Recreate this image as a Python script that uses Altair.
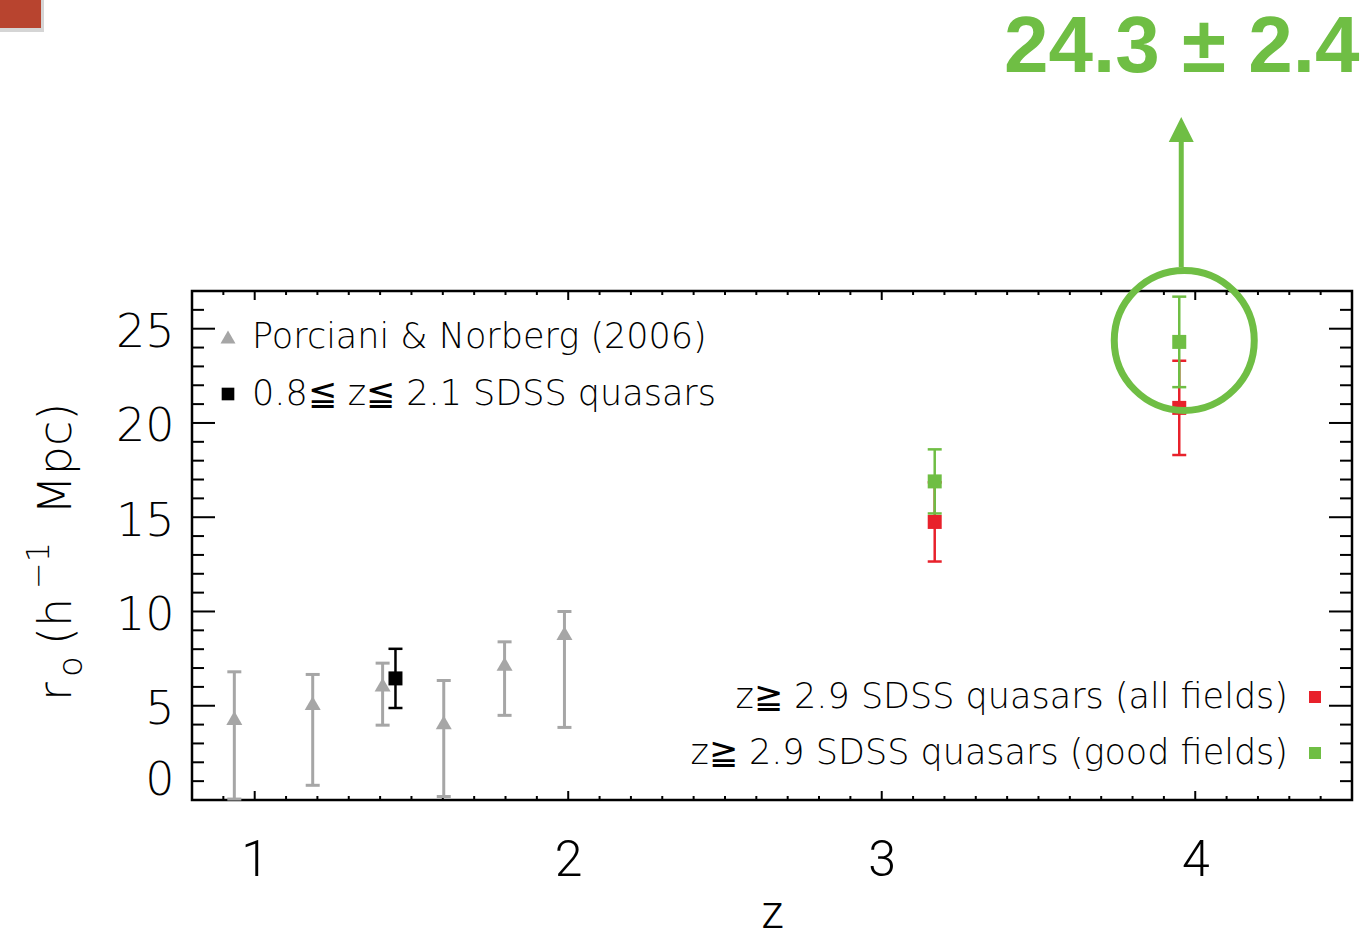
import altair as alt
import pandas as pd

# ---- data -------------------------------------------------------------
# Porciani & Norberg (2006): redshift, r0 and error-bar limits
pn_z = [0.935, 1.185, 1.408, 1.603, 1.797, 1.988]
pn_r0 = [4.35, 5.14, 6.12, 4.12, 7.22, 8.85]
pn_lo = [0.05, 0.78, 3.97, 0.18, 4.49, 3.85]
pn_hi = [6.80, 6.66, 7.26, 6.34, 8.39, 10.0]

# 0.8 <= z <= 2.1 SDSS quasars
lowz_z = [1.449]
lowz_r0 = [6.45]
lowz_err = [1.57]

# z >= 2.9 SDSS quasars
hiz_z = [3.169, 3.949]
all_r0 = [14.75, 20.8]
all_err = [2.1, 2.5]
good_r0 = [16.9, 24.3]
good_err = [1.7, 2.4]

x_major = [1, 2, 3, 4]
y_major = [0, 5, 10, 15, 20, 25]

legend_top = ["Porciani & Norberg (2006)", "0.8\u2266 z\u2266 2.1 SDSS quasars"]
legend_bottom = ["z\u2267 2.9 SDSS quasars (all fields)",
                 "z\u2267 2.9 SDSS quasars (good fields)"]

# y-axis title pieces: r_o (h^-1 Mpc)
ytitle_parts = ["r", "o", "(h", "\u22121", "Mpc)"]

# ---- styling ----------------------------------------------------------
W, H = 1160, 509
GRAY = "#a6a6a6"
GREEN = "#6fbe44"
RED = "#e8212b"
FONT = "DejaVu Sans"
LIGHT = 200
NARROW = "Roboto"

xs = alt.Scale(domain=[0.8, 4.5], nice=False, zero=False)
ys = alt.Scale(domain=[0, 27], nice=False, zero=False)

# identical axis definitions on every layer so that they merge cleanly
AX_X = alt.Axis(
    values=x_major, format="d", ticks=False, domain=False, grid=False,
    labelFont=NARROW, labelFontWeight=300, labelFontSize=50, labelColor="black",
    labelBaseline="alphabetic", labelPadding=75,
    title="z", titleFont=NARROW, titleFontSize=46, titleFontWeight=300,
    titleColor="black", titleBaseline="bottom", titleY=137)
AX_Y = alt.Axis(
    values=y_major, format="d", ticks=False, domain=False, grid=False,
    labelFont=FONT, labelFontWeight=LIGHT, labelFontSize=46, labelColor="black",
    labelPadding=18, labelFlush=True, labelOffset=4, title="")


def X(field, **kw):
    return alt.X(field, scale=xs, axis=AX_X, **kw)


def Y(field, **kw):
    return alt.Y(field, scale=ys, axis=AX_Y, **kw)


def errorbars(z, lo, hi, color, width, cap):
    df = pd.DataFrame({"z": z, "lo": lo, "hi": hi})
    base = alt.Chart(df)
    rule = base.mark_rule(color=color, strokeWidth=width, opacity=1).encode(
        x=X("z:Q"), y=Y("lo:Q"), y2="hi:Q")
    caps = [
        base.mark_tick(color=color, orient="horizontal", size=cap,
                       thickness=width, opacity=1).encode(x=X("z:Q"), y=Y(f"{k}:Q"))
        for k in ("lo", "hi")
    ]
    return [rule] + caps


def markers(z, r0, shape, color, size):
    df = pd.DataFrame({"z": z, "r0": r0})
    return alt.Chart(df).mark_point(shape=shape, filled=True, size=size,
                                    color=color, opacity=1, strokeWidth=0).encode(
        x=X("z:Q"), y=Y("r0:Q"))


# ---- frame ticks (pointing inwards on all four sides) -----------------
x_minor = [round(0.8 + 0.1 * i, 1) for i in range(38)]
x_minor = [v for v in x_minor if v not in x_major]
y_minor = [v for v in range(0, 28) if v not in y_major]


def xticks(vals, length, top):
    df = pd.DataFrame({"v": vals})
    y0 = 0 if top else H
    y1 = length if top else H - length
    return alt.Chart(df).mark_rule(color="black", strokeWidth=2).encode(
        x=X("v:Q"), y=alt.value(y0), y2=alt.value(y1))


def yticks(vals, length, right):
    df = pd.DataFrame({"v": vals})
    x0 = W if right else 0
    x1 = W - length if right else length
    return alt.Chart(df).mark_rule(color="black", strokeWidth=2).encode(
        y=Y("v:Q"), x=alt.value(x0), x2=alt.value(x1))


ticks = [
    xticks(x_major, 9, False), xticks(x_minor, 4, False),
    xticks(x_major, 9, True), xticks(x_minor, 4, True),
    yticks(y_major, 23, False), yticks(y_minor, 12, False),
    yticks(y_major, 23, True), yticks(y_minor, 12, True),
]

# ---- data layers -------------------------------------------------------
pn_layers = errorbars(pn_z, pn_lo, pn_hi, GRAY, 3, 14) + [
    markers(pn_z, pn_r0, "triangle-up", GRAY, 256)]

lowz_layers = errorbars(lowz_z, [r - e for r, e in zip(lowz_r0, lowz_err)],
                        [r + e for r, e in zip(lowz_r0, lowz_err)], "black", 2.5, 14) + [
    markers(lowz_z, lowz_r0, "square", "black", 196)]

red_layers = errorbars(hiz_z, [r - e for r, e in zip(all_r0, all_err)],
                       [r + e for r, e in zip(all_r0, all_err)], RED, 2.5, 14) + [
    markers(hiz_z, all_r0, "square", RED, 196)]

green_layers = errorbars(hiz_z, [r - e for r, e in zip(good_r0, good_err)],
                         [r + e for r, e in zip(good_r0, good_err)], GREEN, 2.5, 14) + [
    markers(hiz_z, good_r0, "square", GREEN, 196)]

# ---- in-plot legend ----------------------------------------------------


def label(text, x, y, align, size=35, angle=0, baseline="middle"):
    return alt.Chart(pd.DataFrame({"t": [text]})).mark_text(
        align=align, baseline=baseline, font=FONT, fontWeight=LIGHT, fontSize=size,
        angle=angle, color="black").encode(x=alt.value(x), y=alt.value(y), text="t:N")


def swatch(shape, color, size, x, y):
    return alt.Chart(pd.DataFrame({"k": [0]})).mark_point(
        shape=shape, filled=True, size=size, color=color, opacity=1,
        strokeWidth=0).encode(x=alt.value(x), y=alt.value(y))


legend_layers = [
    swatch("triangle-up", GRAY, 225, 36, 46), label(legend_top[0], 60, 46, "left"),
    swatch("square", "black", 160, 36, 103), label(legend_top[1], 60, 103, "left"),
    label(legend_bottom[0], 1096, 406, "right"), swatch("square", RED, 144, 1123, 406),
    label(legend_bottom[1], 1096, 462, "right"), swatch("square", GREEN, 144, 1123, 462),
]

# ---- rotated y-axis title with sub/superscript -------------------------
# (baseline x, start y, font size) for each piece, reading bottom to top
ytitle_layout = [(-121, 410, 46), (-110, 386, 34), (-121, 354, 46),
                 (-143, 298, 32), (-121, 224, 46)]
ytitle_layers = [
    label(t, bx, sy, "left", size=fs, angle=270, baseline="alphabetic")
    for t, (bx, sy, fs) in zip(ytitle_parts, ytitle_layout)
]

# ---- highlight of the highest-redshift point ---------------------------
hl = pd.DataFrame({"z": [hiz_z[-1]], "r0": [good_r0[-1]],
                   "t": [f"{good_r0[-1]:.1f} \u00b1 {good_err[-1]:.1f}"]})
ring = alt.Chart(hl).mark_point(shape="circle", filled=False, size=19600,
                                color=GREEN, strokeWidth=7, opacity=1, xOffset=5,
                                yOffset=-1.5).encode(x=X("z:Q"), y=Y("r0:Q"))
arrow_shaft = alt.Chart(hl).mark_rule(color=GREEN, strokeWidth=5, xOffset=2).encode(
    x=X("z:Q"), y=alt.value(-24), y2=alt.value(-152))
arrow_head = alt.Chart(hl).mark_point(shape="M0,-1L-1,1L1,1Z", filled=True, size=625,
                                      color=GREEN, opacity=1, strokeWidth=0,
                                      xOffset=2).encode(x=X("z:Q"), y=alt.value(-161.5))
hl_text = alt.Chart(hl).mark_text(font="Liberation Sans", fontWeight="bold", fontSize=80,
                                  color=GREEN, align="center", baseline="alphabetic",
                                  xOffset=2.5).encode(
    x=X("z:Q"), y=alt.value(-219), text="t:N")

# ---- small red tab in the top-left corner ------------------------------
tab_df = pd.DataFrame({"k": [0]})
tab_shadow = alt.Chart(tab_df).mark_rect(color="#888888", opacity=0.35).encode(
    x=alt.value(-192), x2=alt.value(-148), y=alt.value(-291), y2=alt.value(-259))
tab = alt.Chart(tab_df).mark_rect(color="#b8442f").encode(
    x=alt.value(-192), x2=alt.value(-151), y=alt.value(-291), y2=alt.value(-263))

chart = alt.layer(
    *ticks, *pn_layers, *lowz_layers, *red_layers, *green_layers,
    *legend_layers, *ytitle_layers, ring, arrow_shaft, arrow_head, hl_text,
    tab_shadow, tab,
).properties(
    width=W, height=H,
    autosize=alt.AutoSizeParams(type="none"),
    padding={"left": 192, "top": 291, "right": 12, "bottom": 139},
    background="white",
).configure_view(stroke="black", strokeWidth=2.5)

chart.save("out.html", embed_options={"renderer": "svg", "actions": False})
